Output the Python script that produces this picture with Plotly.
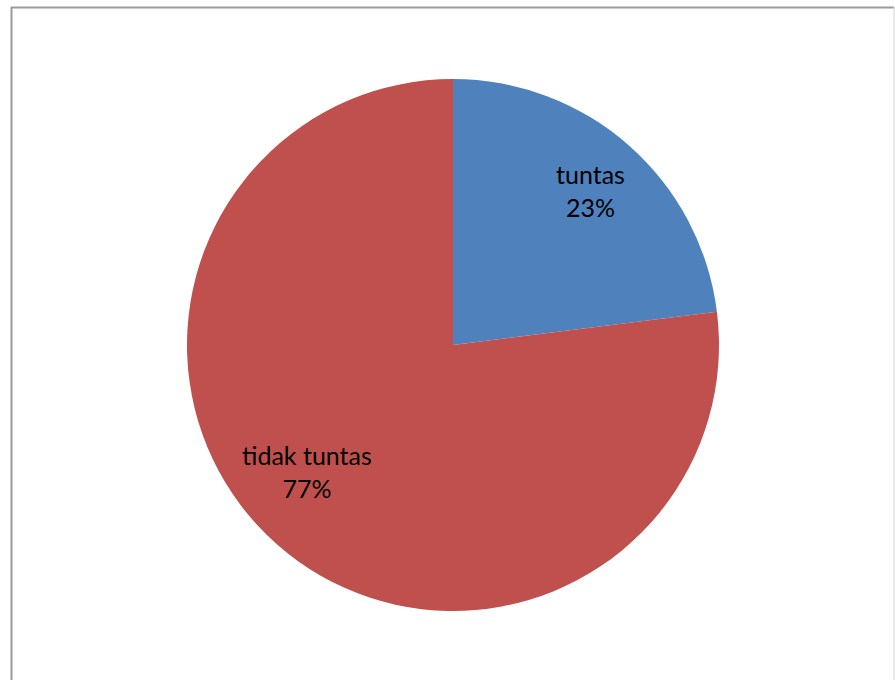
import plotly.graph_objects as go

labels = ["tuntas", "tidak tuntas"]
values = [23, 77]
colors = ["#4F81BD", "#C0504D"]
pct_text = ["23%", "77%"]
label_pos = [(590, 190.5), (306.5, 471.5)]  # pixel centres of data labels

W, H = 895, 680
L, T, S = 187, 79, 532  # plot area
fig = go.Figure(go.Pie(
    labels=labels, values=values, sort=False, direction="clockwise", rotation=0,
    marker=dict(colors=colors, line=dict(width=0)),
    textinfo="none", showlegend=False, hoverinfo="label+percent",
))

def px(x):
    return (x - L) / S

def py(y):
    return 1 - (y - T) / S

annotations = [
    dict(text=f"{lab}<br>{p}", x=px(x), y=py(y), xref="paper", yref="paper",
         xanchor="center", yanchor="middle", showarrow=False,
         font=dict(family="Lato", size=25, color="black"))
    for lab, p, (x, y) in zip(labels, pct_text, label_pos)
]

shapes = [
    dict(type="line", xref="paper", yref="paper", x0=px(11.5), x1=px(11.5), y0=py(7), y1=py(700),
         line=dict(color="#9a9a9a", width=2)),
    dict(type="line", xref="paper", yref="paper", x0=px(11), x1=px(894), y0=py(7.5), y1=py(7.5),
         line=dict(color="#9a9a9a", width=2)),
    dict(type="line", xref="paper", yref="paper", x0=px(894), x1=px(894), y0=py(7), y1=py(700),
         line=dict(color="#cfcfcf", width=1)),
]

fig.update_layout(
    width=W, height=H, autosize=False,
    margin=dict(l=L, r=W - L - S, t=T, b=H - T - S, pad=0),
    paper_bgcolor="white", plot_bgcolor="white",
    shapes=shapes, annotations=annotations,
)
fig.write_html("out.html")
